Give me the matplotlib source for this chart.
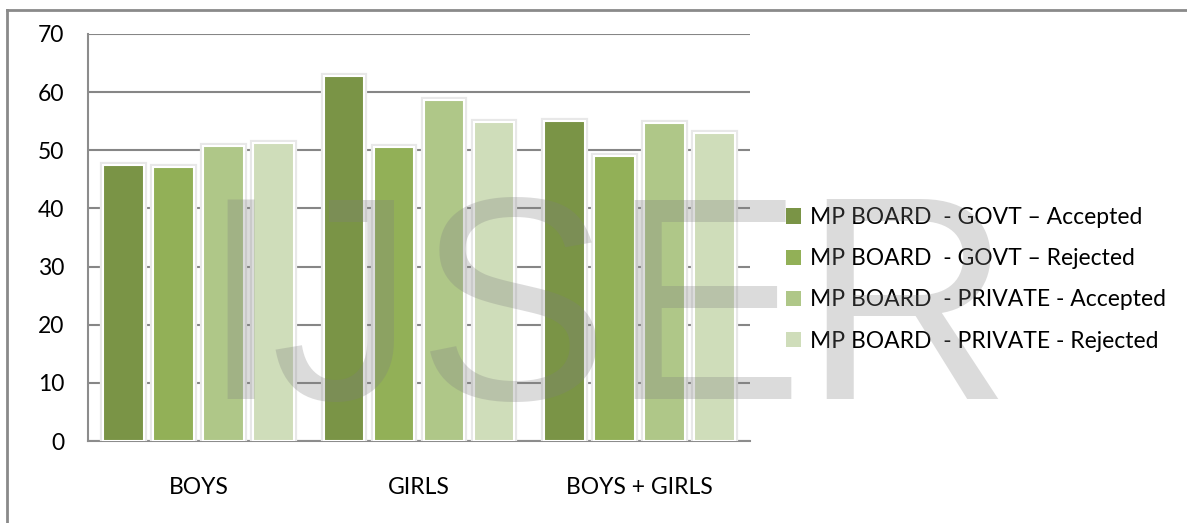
import matplotlib.pyplot as plt
import matplotlib.patheffects as pe
from matplotlib.lines import Line2D
import numpy as np

categories = ['BOYS', 'GIRLS', 'BOYS + GIRLS']
series_names = ['MP BOARD  - GOVT \u2013 Accepted',
                'MP BOARD  - GOVT \u2013 Rejected',
                'MP BOARD  - PRIVATE - Accepted',
                'MP BOARD  - PRIVATE - Rejected']
govt_accepted = [47.5, 62.7, 55.1]
govt_rejected = [47.2, 50.6, 49.0]
private_accepted = [50.8, 58.7, 54.7]
private_rejected = [51.2, 54.9, 53.0]
yticks = [0, 10, 20, 30, 40, 50, 60, 70]

colors = ['#7a9446', '#92b057', '#afc788', '#cfddba']
series = [govt_accepted, govt_rejected, private_accepted, private_rejected]

plt.rcParams['font.family'] = ['Lato', 'DejaVu Sans']

fig = plt.figure(figsize=(11.87, 5.23), dpi=100)
ax = fig.add_axes([88/1187, 1 - 441/523, (750 - 88)/1187, (441 - 34)/523])

x = np.arange(len(categories))
pitch = 0.2266
for i, (vals, c) in enumerate(zip(series, colors)):
  bars = ax.bar(x + (i - 1.5)*pitch, vals, 0.185, color=c, edgecolor='white',
                linewidth=1.5, label=series_names[i], zorder=3)
  for b in bars:
    b.set_path_effects([pe.Stroke(linewidth=4.5, foreground='#e8e8e8'), pe.Normal()])

ax.set_xlim(-0.5, 2.5)
ax.set_ylim(0, 70)
ax.set_yticks(yticks)
ax.yaxis.grid(True, color='#868686', linewidth=1.5, zorder=0)
ax.set_axisbelow(True)
ax.set_xticks(x)
ax.set_xticklabels(categories)
ax.tick_params(axis='x', length=0, pad=26, labelsize=16.5)
ax.tick_params(axis='y', length=0, pad=17, labelsize=16.5)
for s in ['top', 'right']:
  ax.spines[s].set_visible(False)
for s in ['left', 'bottom']:
  ax.spines[s].set_color('#8c8c8c')
  ax.spines[s].set_linewidth(1.5)

leg = fig.legend(loc='upper left', bbox_to_anchor=(777/1187, 1 - 198/523),
                 frameon=False, fontsize=16.5, handlelength=0.65, handleheight=0.65,
                 handletextpad=0.4, labelspacing=0.88, borderaxespad=0)
for h in leg.legend_handles:
  h.set_path_effects([])
  h.set_edgecolor('none')

# watermark, letter by letter
wm_letters = ['I', 'J', 'S', 'E', 'R']
wm_left = [200, 270, 417, 610, 802]
for ch, xl in zip(wm_letters, wm_left):
  fig.text(xl/1187, 1 - 399/523, ch, family=['Liberation Sans', 'DejaVu Sans'],
           fontsize=208, color='#7f7f7f', alpha=0.28, ha='left', va='baseline', zorder=10)

# outer frame
fig.add_artist(Line2D([7/1187, 1], [1 - 10/523, 1 - 10/523], color='#8a8a8a', linewidth=2))
fig.add_artist(Line2D([7/1187, 7/1187], [0, 1 - 10/523], color='#8a8a8a', linewidth=2))

plt.savefig('out.png', dpi=100)
